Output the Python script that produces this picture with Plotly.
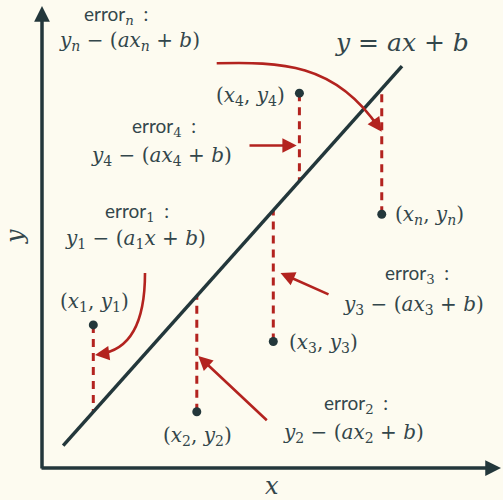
import plotly.graph_objects as go

# ---- data (in chart units) ----
pt_x = [1.14, 3.44, 5.14, 5.72, 7.55]
pt_y = [3.18, 1.25, 2.81, 8.33, 5.64]
line_a = 1.12
line_b = -0.03
line_x = [0.47, 8.0]

# ---- coordinate setup ----
W, H = 503, 500
X0, Y0, S = 42, 468, 45.0   # pixel of origin, px per unit

def px(x, y):
    return ((x - X0) / S, (Y0 - y) / S)

BG = "#fdfbf0"
DARK = "#23373b"
TXT = "#33464b"
RED = "#b3231f"
MATH = "DejaVu Serif"
SANS = "Lato"

fig = go.Figure()

# dashed residuals
for xi, yi in zip(pt_x, pt_y):
    fig.add_trace(go.Scatter(x=[xi, xi], y=[yi, line_a * xi + line_b], mode="lines",
                             line=dict(color=RED, width=3, dash="8px,6px"),
                             hoverinfo="skip", showlegend=False))

# regression line
fig.add_trace(go.Scatter(x=line_x, y=[line_a * v + line_b for v in line_x], mode="lines",
                         line=dict(color=DARK, width=3.5), hoverinfo="skip", showlegend=False))

# points
fig.add_trace(go.Scatter(x=pt_x, y=pt_y, mode="markers",
                         marker=dict(color=DARK, size=9), hoverinfo="skip", showlegend=False))

shapes = []
annotations = []

def arrow(tip, tail, color, width, head=2, size=1.0):
    tx, ty = px(*tip)
    sx, sy = px(*tail)
    annotations.append(dict(x=tx, y=ty, ax=sx, ay=sy, xref="x", yref="y", axref="x", ayref="y",
                            text="", showarrow=True, arrowhead=head, arrowsize=size,
                            arrowwidth=width, arrowcolor=color, standoff=0, startstandoff=0))

def curve(p0, c1, c2, p3, color, width):
    pts = [px(*p) for p in (p0, c1, c2, p3)]
    path = "M {},{} C {},{} {},{} {},{}".format(*[v for p in pts for v in p])
    shapes.append(dict(type="path", path=path, xref="x", yref="y",
                       line=dict(color=color, width=width)))

# axes
arrow((42, 6), (42, 470), DARK, 3.5, head=2, size=0.9)
arrow((501, 468), (40, 468), DARK, 3.5, head=2, size=0.9)

# red arrows
curve((216.7, 63.3), (280, 62), (335, 62), (379, 128), RED, 2.6)
arrow((381.7, 131.7), (372, 118), RED, 2.6, head=2, size=1.1)
arrow((296.7, 145.5), (248, 145.5), RED, 2.6, head=2, size=1.1)
curve((145, 273), (145, 330), (125, 351), (99, 354), RED, 2.6)
arrow((95, 355), (110, 353), RED, 2.6, head=2, size=1.1)
arrow((280.5, 273), (330, 295), RED, 2.6, head=2, size=1.1)
arrow((198.3, 356), (268.3, 421.7), RED, 2.6, head=2, size=1.1)

def label(x, y, text, size=20, font=MATH, xanchor="center", angle=0):
    lx, ly = px(x, y)
    annotations.append(dict(x=lx, y=ly, xref="x", yref="y", text=text, showarrow=False,
                            xanchor=xanchor, yanchor="middle", textangle=angle,
                            font=dict(family=font, size=size, color=TXT)))

def err_label(x, y, sub):
    label(x, y, "error<sub><span style='font-family:%s'>%s</span></sub>&nbsp; :" % (MATH, sub),
          size=19, font=SANS)

def it(s):
    return "<i>%s</i>" % s

def sub(base, s):
    return "<i>%s</i><sub>%s</sub>" % (base, s)

n_i = "<i>n</i>"

# labels
err_label(116, 15, n_i)
label(129, 41, sub("y", n_i) + " − (" + it("a") + sub("x", n_i) + " + " + it("b") + ")")
err_label(164, 127, "4")
label(161, 156, sub("y", "4") + " − (" + it("a") + sub("x", "4") + " + " + it("b") + ")")
err_label(137, 212, "1")
label(135, 239, sub("y", "1") + " − (" + sub("a", "1") + it("x") + " + " + it("b") + ")")
err_label(417, 274, "3")
label(413, 305, sub("y", "3") + " − (" + it("a") + sub("x", "3") + " + " + it("b") + ")")
err_label(356, 404, "2")
label(353, 433, sub("y", "2") + " − (" + it("a") + sub("x", "2") + " + " + it("b") + ")")

label(250, 96, "(" + sub("x", "4") + ", " + sub("y", "4") + ")")
label(94, 302, "(" + sub("x", "1") + ", " + sub("y", "1") + ")")
label(197, 436, "(" + sub("x", "2") + ", " + sub("y", "2") + ")")
label(287, 343, "(" + sub("x", "3") + ", " + sub("y", "3") + ")", xanchor="left")
label(393, 215, "(" + sub("x", n_i) + ", " + sub("y", n_i) + ")", xanchor="left")

label(402, 42, it("y") + " = " + it("a") + it("x") + " + " + it("b"), size=25)
label(272, 486, it("x"), size=24)
label(15, 237, it("y"), size=24, angle=-90)

fig.update_layout(
    width=W, height=H,
    margin=dict(l=0, r=0, t=0, b=0),
    paper_bgcolor=BG, plot_bgcolor=BG,
    xaxis=dict(range=[-X0 / S, (W - X0) / S], visible=False, fixedrange=True),
    yaxis=dict(range=[(Y0 - H) / S, Y0 / S], visible=False, fixedrange=True),
    shapes=shapes, annotations=annotations, showlegend=False,
)

fig.write_html("out.html", config={"displayModeBar": False},
               post_script="document.body.style.margin='0';document.body.style.overflow='hidden';")
